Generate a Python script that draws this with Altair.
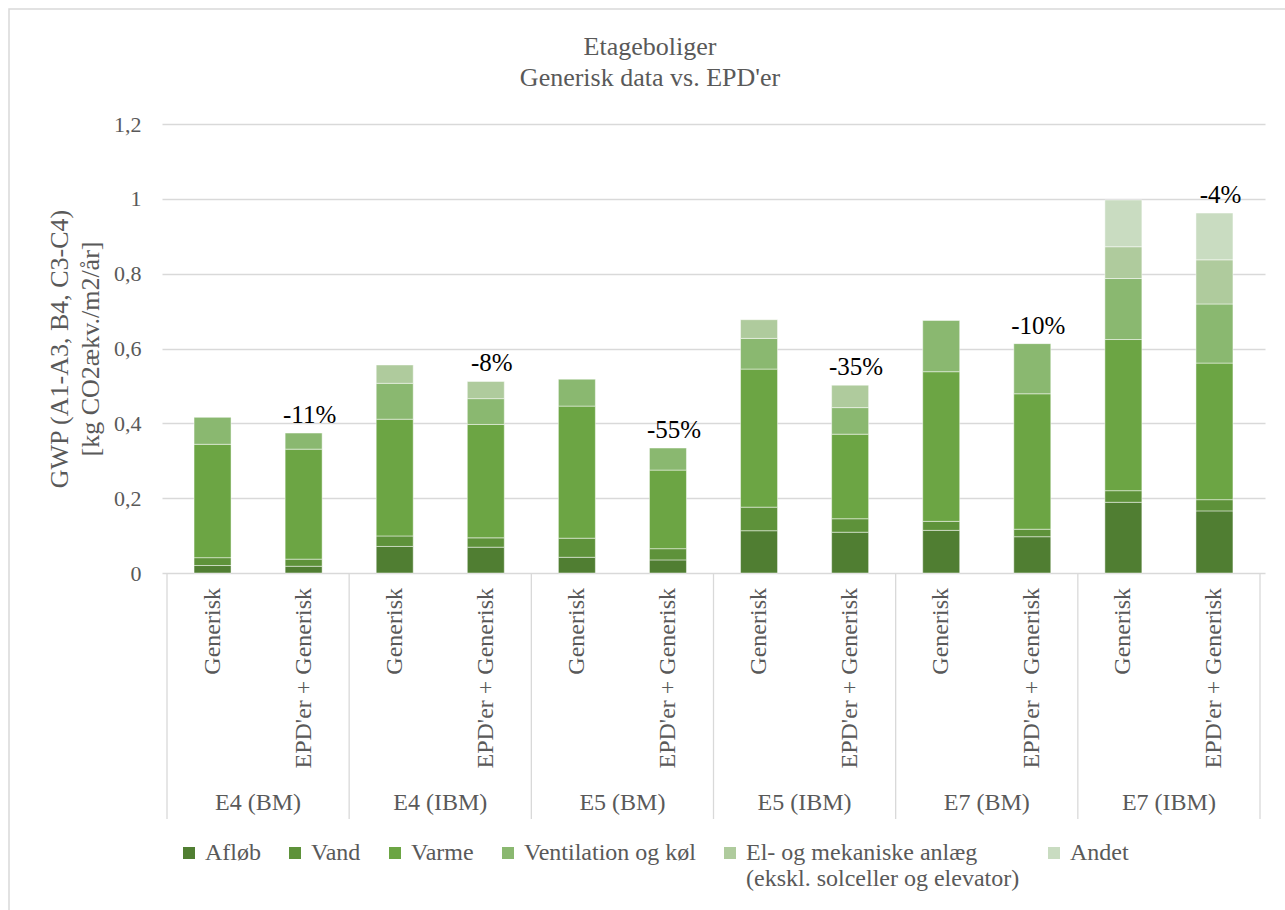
import altair as alt
import pandas as pd

# ---- data ----
groups = ["E4 (BM)", "E4 (IBM)", "E5 (BM)", "E5 (IBM)", "E7 (BM)", "E7 (IBM)"]
variants = ["Generisk", "EPD'er + Generisk"]
series = ["Afløb", "Vand", "Varme", "Ventilation og køl",
          "El- og mekaniske anlæg", "Andet"]
colors = ["#507E32", "#5E923A", "#6CA544", "#8AB870", "#AFCB9D", "#C9DCC1"]

afloeb = [0.020, 0.018, 0.071, 0.069, 0.042, 0.035, 0.113, 0.109, 0.114, 0.097, 0.189, 0.166]
vand   = [0.021, 0.019, 0.028, 0.025, 0.051, 0.030, 0.063, 0.036, 0.024, 0.020, 0.031, 0.030]
varme  = [0.303, 0.294, 0.312, 0.303, 0.353, 0.210, 0.369, 0.226, 0.400, 0.362, 0.404, 0.365]
vent   = [0.072, 0.043, 0.096, 0.069, 0.072, 0.059, 0.082, 0.071, 0.137, 0.134, 0.163, 0.158]
el     = [0.000, 0.000, 0.049, 0.046, 0.000, 0.000, 0.050, 0.060, 0.000, 0.000, 0.085, 0.118]
andet  = [0.000, 0.000, 0.000, 0.000, 0.000, 0.000, 0.000, 0.000, 0.000, 0.000, 0.125, 0.125]
pct_labels = ["-11%", "-8%", "-55%", "-35%", "-10%", "-4%"]

y_ticks = [0, 0.2, 0.4, 0.6, 0.8, 1.0, 1.2]

# ---- tables ----
vals_by_series = [afloeb, vand, varme, vent, el, andet]
rows = []
for i in range(12):
    for k, (s, vals) in enumerate(zip(series, vals_by_series)):
        if vals[i] > 0:
            rows.append(dict(pos=i + 0.5, group=groups[i // 2],
                             variant=variants[i % 2], series=s, k=k, value=vals[i]))
df = pd.DataFrame(rows)

tot_rows = []
for j in range(6):
    i = 2 * j + 1
    tot_rows.append(dict(pos=i + 0.5, total=sum(v[i] for v in vals_by_series),
                         label=pct_labels[j]))
tot_df = pd.DataFrame(tot_rows)

lab_df = pd.DataFrame([dict(pos=i + 0.5, variant=variants[i % 2]) for i in range(12)])
grp_df = pd.DataFrame([dict(pos=2 * j + 1, group=groups[j]) for j in range(6)])
sep_df = pd.DataFrame([dict(pos=2 * j) for j in range(7)])
one = pd.DataFrame({"a": [0]})

FONT = "'Liberation Serif', 'Times New Roman', serif"
GREY = "#595959"
W, H = 1103, 449

xenc = alt.X("pos:Q", scale=alt.Scale(domain=[0, 12], nice=False, zero=False), axis=None)
yscale = alt.Scale(domain=[0, 1.2], nice=False)
ytitle = ["GWP (A1-A3, B4, C3-C4)", "[kg CO2ækv./m2/år]"]

bars = alt.Chart(df).mark_bar(size=37, stroke="#ffffff", strokeWidth=0.8,
                              strokeOpacity=0.6).encode(
    x=xenc,
    y=alt.Y("value:Q", stack="zero", scale=yscale, title=ytitle,
            axis=alt.Axis(values=y_ticks, format=".1~f",
                          labelExpr="replace(datum.label, '.', ',')",
                          grid=True, gridColor="#d9d9d9", gridWidth=1.3,
                          domain=False, ticks=False, labelPadding=21,
                          labelFont=FONT, labelFontSize=22, labelColor=GREY,
                          titleFont=FONT, titleFontSize=26, titleColor=GREY,
                          titleFontWeight="normal", titlePadding=10,
                          titleLineHeight=31)),
    color=alt.Color("series:N", scale=alt.Scale(domain=series, range=colors),
                    legend=alt.Legend(
                        title=None, orient="none", legendX=15, legendY=717,
                        direction="horizontal", columns=6, padding=0,
                        symbolType="square", symbolSize=144, symbolStrokeWidth=0,
                        labelOffset=4, columnPadding=22, labelLimit=500,
                        labelFont=FONT, labelFontSize=24, labelColor=GREY,
                        labelBaseline="middle",
                        labelExpr="datum.label == 'El- og mekaniske anlæg' ? "
                                  "['El- og mekaniske anlæg', '(ekskl. solceller og elevator)']"
                                  " : [datum.label, '']")),
    order=alt.Order("k:Q", sort="ascending"),
)

pct = alt.Chart(tot_df).mark_text(baseline="alphabetic", dy=-10, dx=6, font=FONT,
                                  fontSize=25, color="#000000").encode(
    x=xenc, y=alt.Y("total:Q", scale=yscale, title=ytitle), text="label:N")

sub_labels = alt.Chart(lab_df).mark_text(angle=270, align="right", baseline="middle",
                                         font=FONT, fontSize=24, color=GREY).encode(
    x=xenc, y=alt.value(H + 15), text="variant:N")

grp_labels = alt.Chart(grp_df).mark_text(baseline="middle", font=FONT, fontSize=24,
                                         color=GREY).encode(
    x=xenc, y=alt.value(H + 230), text="group:N")

seps = alt.Chart(sep_df).mark_rule(color="#d9d9d9", strokeWidth=1.3).encode(
    x=xenc, y=alt.value(H), y2=alt.value(H + 246))

title1 = alt.Chart(one).mark_text(align="center", baseline="alphabetic", font=FONT,
                                  fontSize=26, color=GREY).encode(
    x=alt.value(488), y=alt.value(-69), text=alt.value("Etageboliger"))
title2 = alt.Chart(one).mark_text(align="center", baseline="alphabetic", font=FONT,
                                  fontSize=26, color=GREY).encode(
    x=alt.value(488), y=alt.value(-38), text=alt.value("Generisk data vs. EPD'er"))

border = alt.Chart(one).mark_rect(fillOpacity=0, stroke="#d9d9d9", strokeWidth=1.5).encode(
    x=alt.value(-153), x2=alt.value(1150), y=alt.value(-115), y2=alt.value(800))

chart = alt.layer(border, seps, bars, pct, sub_labels, grp_labels, title1, title2).properties(
    width=W, height=H,
    autosize=alt.AutoSizeParams(type="none"),
    padding={"left": 162, "top": 124, "right": 20, "bottom": 337},
    background="white",
).configure_view(stroke=None)

chart.save("out.html", embed_options={"renderer": "svg", "actions": False})
